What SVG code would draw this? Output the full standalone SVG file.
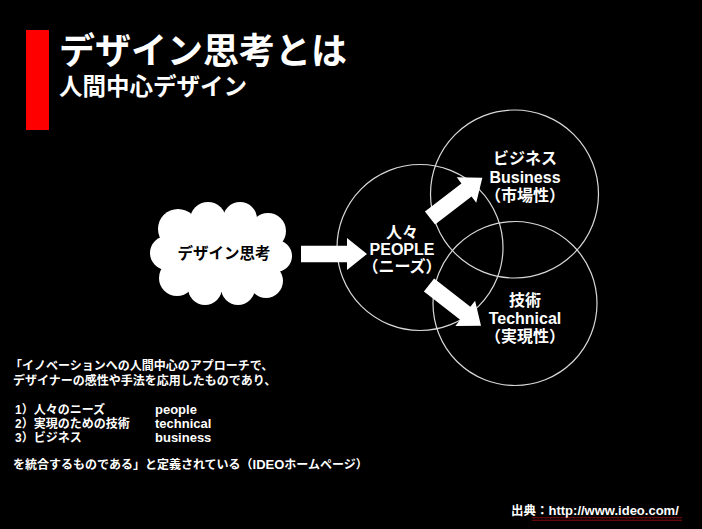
<svg xmlns="http://www.w3.org/2000/svg" width="702" height="529" viewBox="0 0 702 529">
  <style>
    text { font-family: "Liberation Sans", "Noto Sans CJK JP", sans-serif; font-weight: bold; fill: #ffffff; }
    .ring { fill: none; stroke: #d9d9d9; stroke-width: 1.2; }
    .node { font-size: 16px; text-anchor: middle; }
    .body { font-size: 12px; }
    .lat { font-size: 13px; }
    .arrow { fill: #ffffff; }
    .puff { fill: #ffffff; }
  </style>
  <defs>
    <path id="arrowShape" d="M0,-8.3 L46,-8.3 L46,-16 L66,0 L46,16 L46,8.3 L0,8.3 Z"/>
    <pattern id="squiggle" x="0" y="0" width="4" height="3" patternUnits="userSpaceOnUse">
      <path d="M0,2.2 L1,0.8 L2,2.2 L3,0.8 L4,2.2" fill="none" stroke="#e01010" stroke-width="0.9"/>
    </pattern>
  </defs>
  <rect width="702" height="529" fill="#000000"/>

  <g id="header">
    <rect x="26" y="30" width="23" height="100" fill="#ff0000"/>
    <text x="59" y="64" style="font-size:36px">デザイン思考とは</text>
    <text x="59" y="95" style="font-size:23.5px">人間中心デザイン</text>
  </g>

  <g id="node-cloud">
    <g class="puff">
      <ellipse cx="221" cy="254" rx="56" ry="38"/>
      <circle cx="178" cy="229" r="20"/>
      <circle cx="208" cy="220" r="18"/>
      <circle cx="240" cy="219" r="17"/>
      <circle cx="268" cy="231" r="18"/>
      <circle cx="276" cy="256" r="16"/>
      <circle cx="266" cy="281" r="17"/>
      <circle cx="238" cy="288" r="17"/>
      <circle cx="205" cy="288" r="17"/>
      <circle cx="177" cy="278" r="18"/>
      <circle cx="167" cy="253" r="17"/>
    </g>
    <text x="224" y="259" style="font-size:15.5px; fill:#000000; text-anchor:middle">デザイン思考</text>
  </g>

  <g id="node-people">
    <circle class="ring" cx="420" cy="247.5" r="83"/>
    <text class="node" x="402" y="238">人々</text>
    <text class="node" x="402" y="255">PEOPLE</text>
    <text class="node" x="402" y="272">（ニーズ）</text>
  </g>

  <g id="node-business">
    <circle class="ring" cx="514.5" cy="194" r="84"/>
    <text class="node" x="525" y="164">ビジネス</text>
    <text class="node" x="525" y="183">Business</text>
    <text class="node" x="525" y="201">（市場性）</text>
  </g>

  <g id="node-technical">
    <circle class="ring" cx="515" cy="303.5" r="82"/>
    <text class="node" x="525" y="306">技術</text>
    <text class="node" x="525" y="324">Technical</text>
    <text class="node" x="525" y="342">（実現性）</text>
  </g>

  <g id="connectors" class="arrow">
    <use href="#arrowShape" transform="translate(301,254)"/>
    <use href="#arrowShape" transform="translate(430,218) rotate(-37.5)"/>
    <use href="#arrowShape" transform="translate(429,285) rotate(38)"/>
  </g>

  <g id="description" class="body">
    <text x="10" y="370">「イノベーションへの人間中心のアプローチで、</text>
    <text x="13" y="385">デザイナーの感性や手法を応用したものであり、</text>
    <text x="15" y="414">1）人々のニーズ</text>
    <text x="155" y="414" class="lat">people</text>
    <text x="15" y="428">2）実現のための技術</text>
    <text x="155" y="428" class="lat">technical</text>
    <text x="15" y="442">3）ビジネス</text>
    <text x="155" y="442" class="lat">business</text>
    <text x="13" y="469">を統合するものである」と定義されている（<tspan class="lat">IDEO</tspan>ホームページ）</text>
  </g>

  <g id="footer">
    <text x="511" y="515" style="font-size:12.5px">出典：<tspan class="lat">http://www.ideo.com/</tspan></text>
    <rect x="532" y="517.5" width="150" height="3" fill="url(#squiggle)"/>
  </g>
</svg>
